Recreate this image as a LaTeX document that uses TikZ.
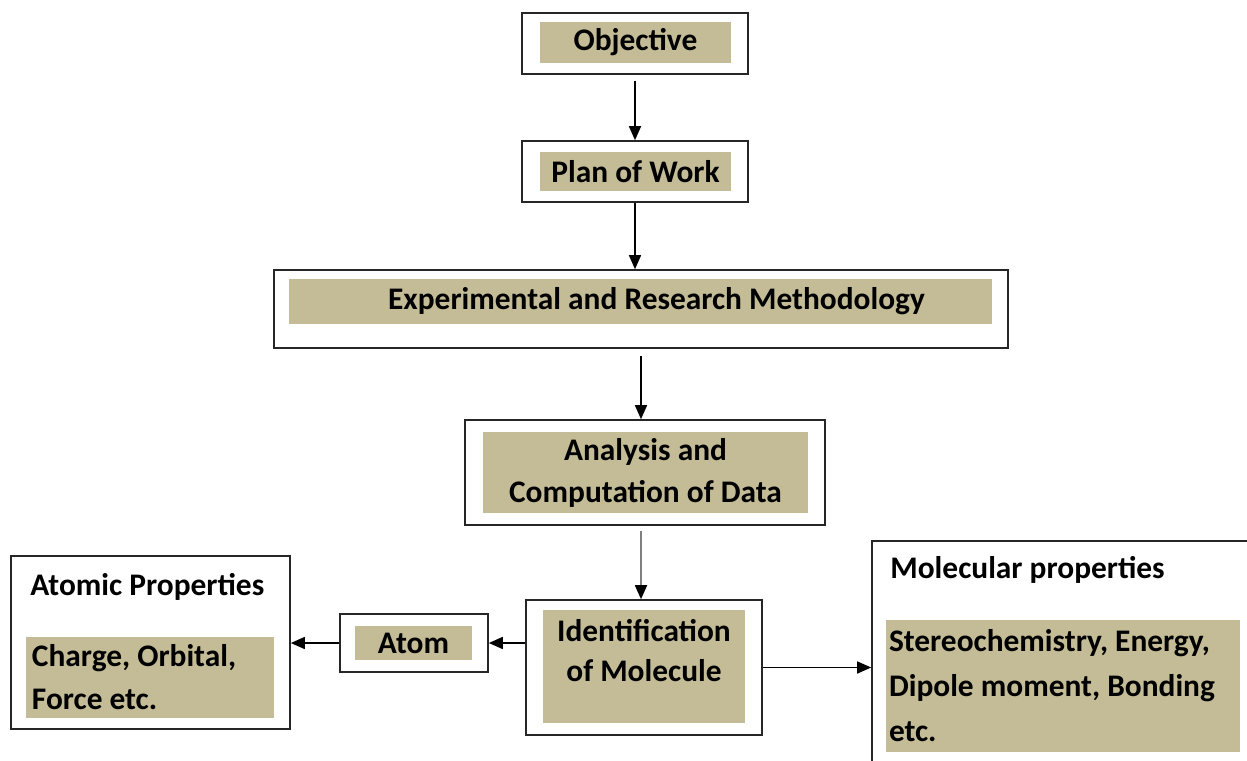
\documentclass[tikz,border=0pt]{standalone}
\usepackage{fontspec}
\setmainfont{Carlito}
\usepackage{xcolor}
\usepackage{tikz}
\usetikzlibrary{arrows.meta}
\definecolor{tan}{HTML}{C4BC96}
\tikzstyle{box}=[draw=black!85, line width=0.8pt, fill=white, shape=rectangle, inner sep=0pt]
\tikzstyle{label box}=[fill=tan, shape=rectangle, inner sep=0pt, font=\bfseries\fontsize{15.7}{21.5}\selectfont]
\tikzstyle{label text}=[inner sep=0pt, font=\bfseries\fontsize{15.7}{20}\selectfont]
\tikzstyle{heading}=[anchor=west, inner sep=0pt, font=\bfseries\fontsize{15.7}{21.5}\selectfont]
\tikzstyle{flow edge}=[-{Triangle[length=7pt, width=6pt]}, draw=black, line width=0.75pt]
\tikzstyle{grey edge}=[-{Triangle[length=7pt, width=6pt, color=black]}, draw=black!50, line width=0.9pt]
\pgfdeclarelayer{nodelayer}
\pgfdeclarelayer{edgelayer}
\pgfsetlayers{main,nodelayer,edgelayer}

\begin{document}
\begin{tikzpicture}[x=0.5pt, y=-0.5pt]
    	\useasboundingbox (0, 0) rectangle (1247, 760);
    	\begin{pgfonlayer}{nodelayer}
    		\node [style=box, minimum width=113pt, minimum height=30.5pt] (0) at (635, 43.5) {};
    		\node [style=label box, minimum width=95.5pt, minimum height=20.5pt] (0a) at (635.5, 42.5) {\raisebox{-1pt}{Objective}};
    		\node [style=box, minimum width=113pt, minimum height=30.5pt] (1) at (635, 171.5) {};
    		\node [style=label box, minimum width=95.5pt, minimum height=19.5pt] (1a) at (635.5, 171.5) {Plan of Work};
    		\node [style=box, minimum width=367pt, minimum height=39pt] (2) at (641, 309) {};
    		\node [style=label box, minimum width=351.5pt, minimum height=22.5pt] (2a) at (640.5, 301.5) {\hspace*{16pt}Experimental and Research Methodology};
    		\node [style=box, minimum width=180pt, minimum height=52.5pt] (3) at (645, 472.5) {};
    		\node [style=label box, minimum width=162.5pt, minimum height=40.5pt, align=flush center, font=\bfseries\fontsize{15.7}{21}\selectfont] (3a) at (645.5, 472.5) {Analysis and\\Computation of Data};
    		\node [style=box, minimum width=118pt, minimum height=67.5pt] (4) at (644, 667.5) {};
    		\node [style=label box, minimum width=101pt, minimum height=56.5pt] (4a) at (644, 666.5) {};
    		\node [style=label text, align=flush center] (4b) at (644, 651) {Identification\\of Molecule};
    		\node [style=box, minimum width=74pt, minimum height=29pt] (5) at (414, 643) {};
    		\node [style=label box, minimum width=58.5pt, minimum height=17pt] (5a) at (413.5, 643) {Atom};
    		\node [style=box, minimum width=139.5pt, minimum height=86.5pt] (6) at (150.5, 642.5) {};
    		\node [style=heading] (6t) at (30, 587) {Atomic Properties};
    		\node [style=label box, minimum width=124pt, minimum height=40.5pt, text width=118pt, align=flush left] (6a) at (150, 677) {Charge, Orbital,\\Force etc.};
    		\node [style=box, minimum width=195pt, minimum height=117pt] (7) at (1067, 658) {};
    		\node [style=heading] (7t) at (890, 570) {Molecular properties};
    		\node [style=label box, minimum width=177pt, minimum height=66pt, text width=174pt, align=flush left, font=\bfseries\fontsize{15.7}{22.5}\selectfont] (7a) at (1063, 686) {Stereochemistry, Energy,\\Dipole moment, Bonding\\etc.};
    	\end{pgfonlayer}
    	\begin{pgfonlayer}{edgelayer}
    		\draw [style=flow edge, shorten <=3pt] (0) to (1);
    		\draw [style=flow edge] (1.south) to (1.south |- 2.north);
    		\draw [style=flow edge, shorten <=3.5pt] (2.south) to (2.south |- 3.north);
    		\draw [style=grey edge, shorten <=2.5pt] (3.south -| 2.south) to (4.north -| 2.south);
    		\draw [style=flow edge] (5.east -| 4.west) to (5.east);
    		\draw [style=flow edge] (5.west) to (5.west -| 6.east);
    		\draw [style=flow edge] (4.east) to (4.east -| 7.west);
    	\end{pgfonlayer}
    \end{tikzpicture}
\end{document}
